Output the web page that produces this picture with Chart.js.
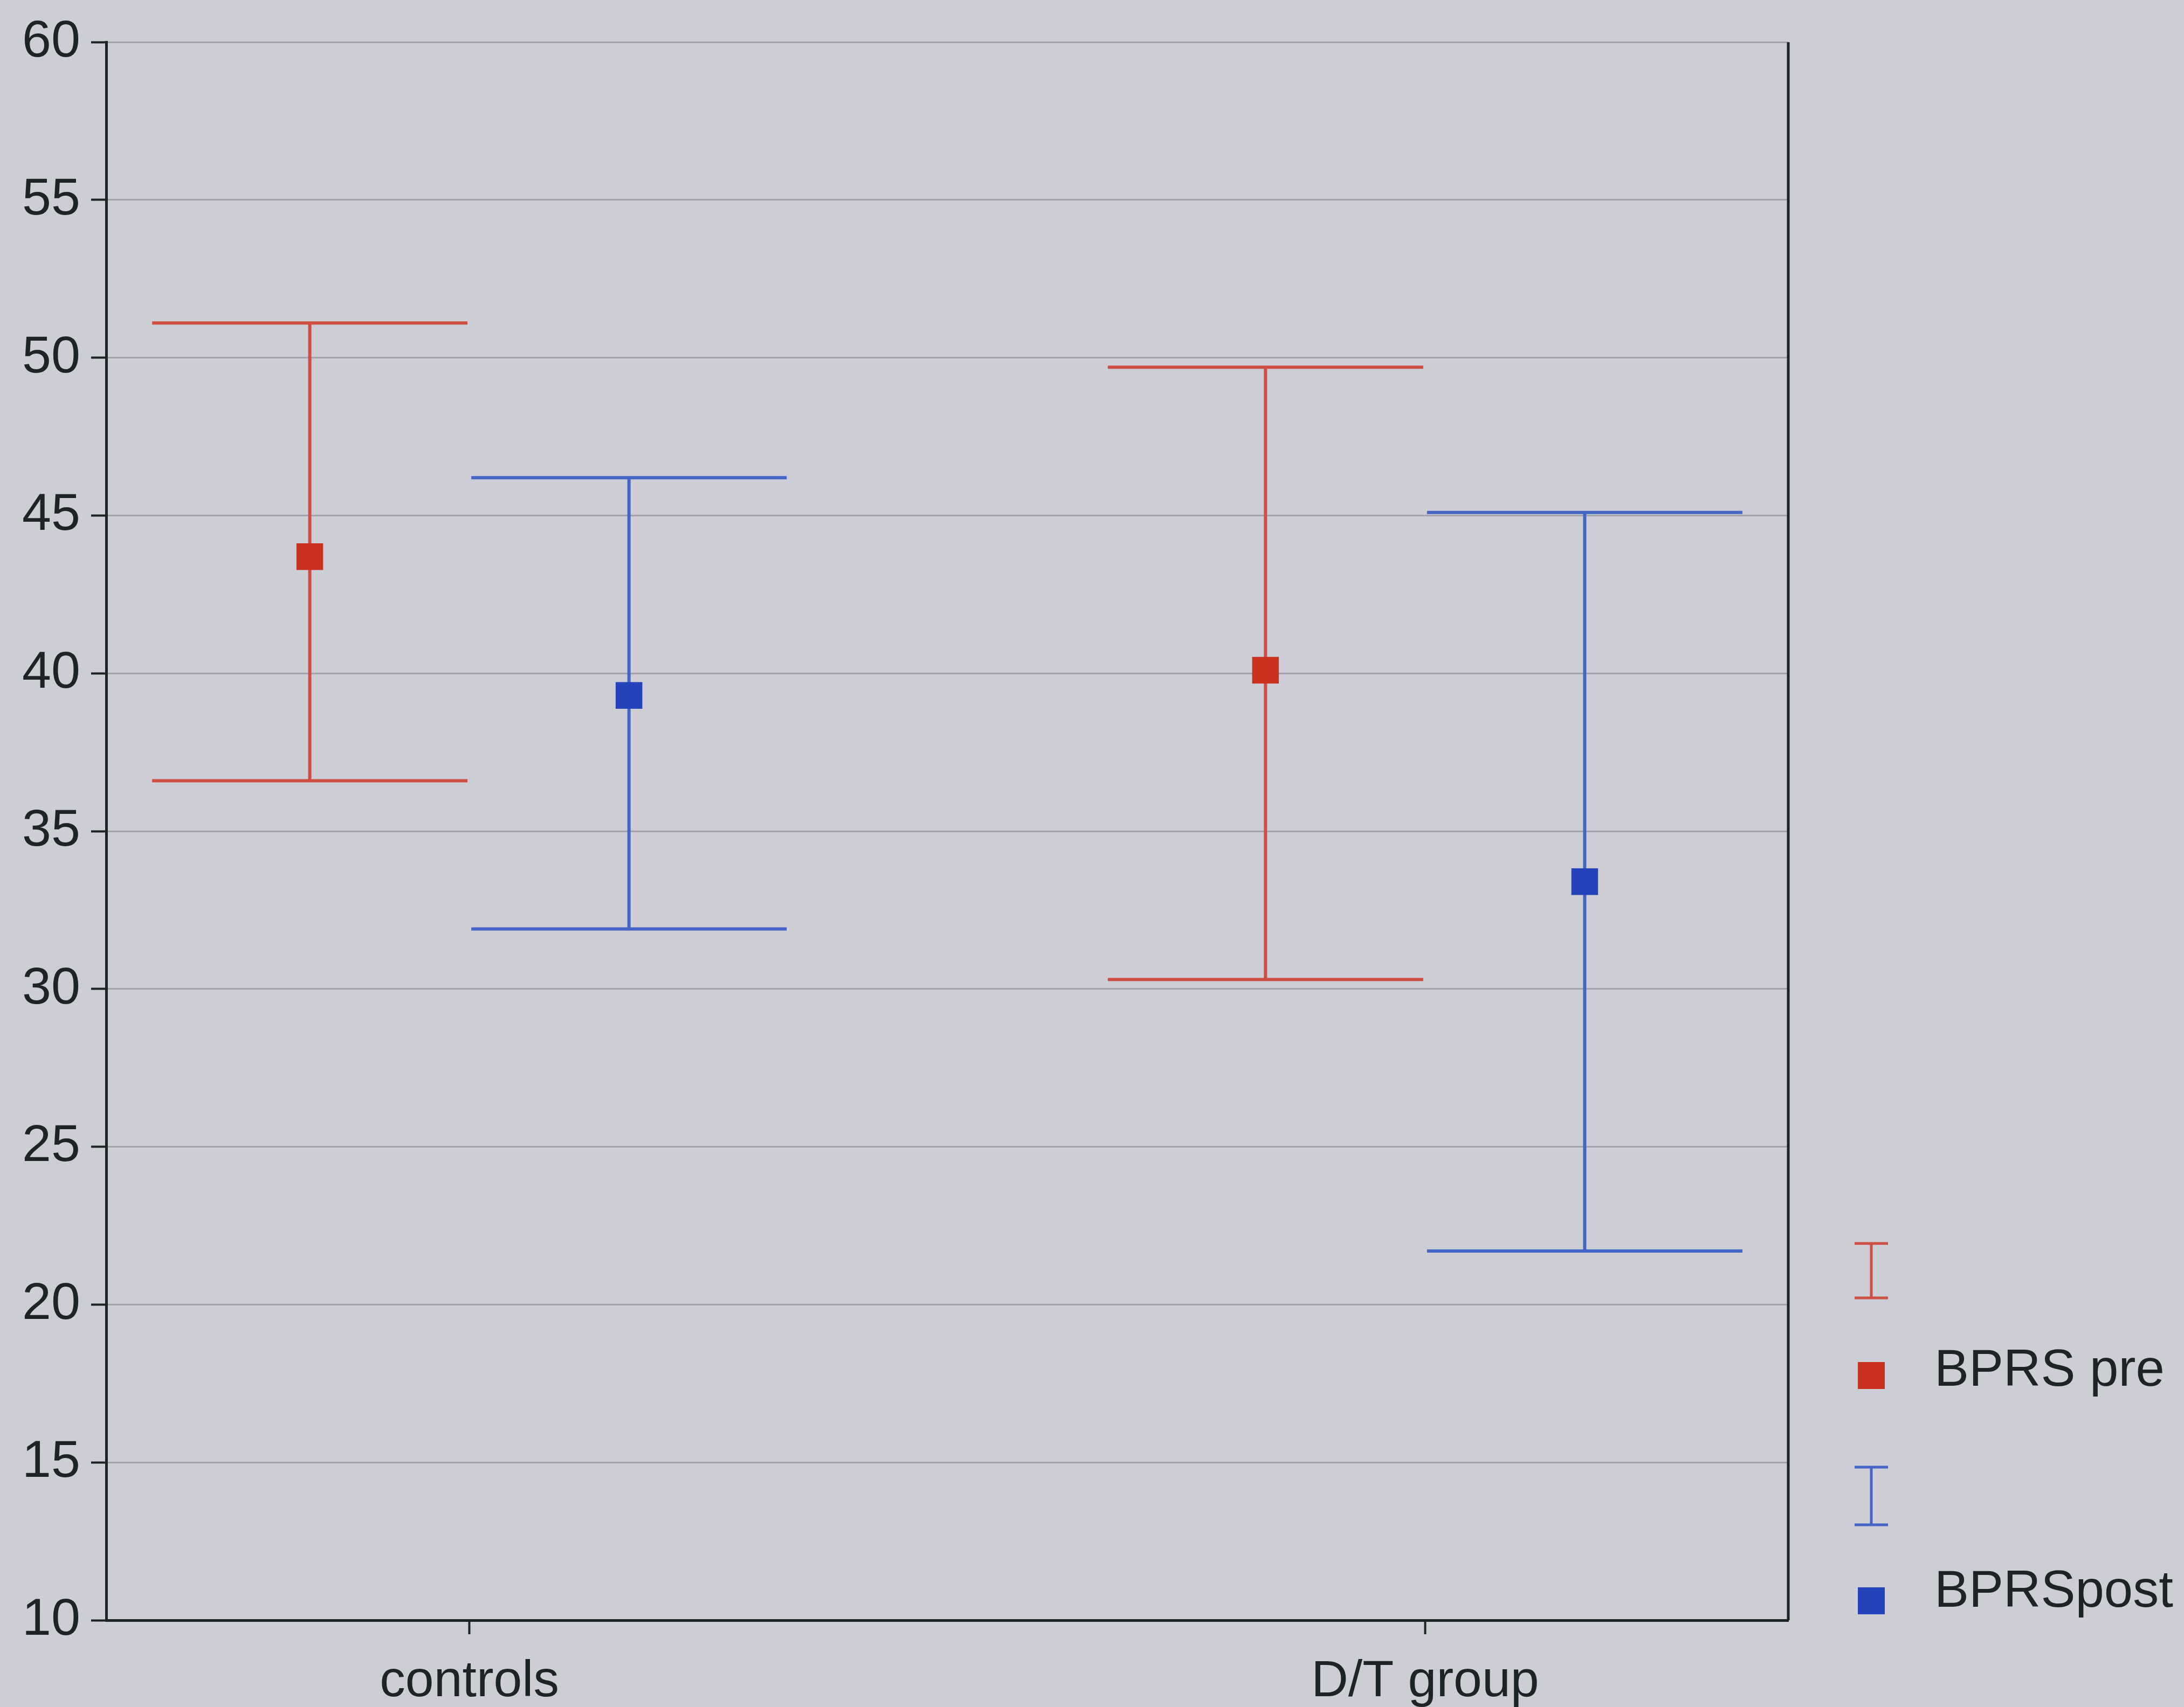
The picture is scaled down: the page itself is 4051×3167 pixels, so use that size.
<!DOCTYPE html>
<html>
<head>
<meta charset="utf-8">
<script src="https://cdn.jsdelivr.net/npm/chart.js@4/dist/chart.umd.min.js"></script>
<style>
  html, body { margin: 0; padding: 0; background: #cdcdd6; }
  #wrap { width: 4051px; height: 3167px; }
</style>
</head>
<body>
<div id="wrap"><canvas id="errChart" width="4051" height="3167"></canvas></div>
<script>
// values (means and error bar ends)
var categories = ['controls', 'D/T group'];
var seriesNames = ['BPRS pre', 'BPRSpost'];
var preMean = [43.7, 40.1];
var preLow = [36.6, 30.3];
var preHigh = [51.1, 49.7];
var postMean = [39.3, 33.4];
var postLow = [31.9, 21.7];
var postHigh = [46.2, 45.1];
var yMin = 10, yMax = 60, yStep = 5;

var redLine = '#cf4e42', redDot = '#c8321f';
var blueLine = '#4465c6', blueDot = '#2443b8';
var inkColor = '#1c2426';
var gridColor = '#a2a3ae';

var offset = 0.167;   // sideways shift of each series inside a group
var capHalf = 0.165;  // half width of the caps, in x units

Chart.defaults.font.family = "'Liberation Sans', Arial, sans-serif";
Chart.defaults.color = inkColor;

function points(means, shift) {
    return means.map(function (m, i) { return {x: i + 1 + shift, y: m}; });
}

var errorBars = {
    id: 'errorBars',
    beforeDatasetsDraw: function (chart) {
        var ctx = chart.ctx, x = chart.scales.x, y = chart.scales.y;
        ctx.save();
        ctx.lineWidth = 6;
        chart.data.datasets.forEach(function (ds) {
            ctx.strokeStyle = ds.errColor;
            ds.data.forEach(function (p, i) {
                var px = x.getPixelForValue(p.x);
                var lo = y.getPixelForValue(ds.errLow[i]);
                var hi = y.getPixelForValue(ds.errHigh[i]);
                var l = x.getPixelForValue(p.x - capHalf);
                var r = x.getPixelForValue(p.x + capHalf);
                ctx.beginPath();
                ctx.moveTo(px, lo); ctx.lineTo(px, hi);
                ctx.moveTo(l, hi); ctx.lineTo(r, hi);
                ctx.moveTo(l, lo); ctx.lineTo(r, lo);
                ctx.stroke();
            });
        });
        ctx.restore();
    }
};

// right frame line and the legend at the lower right
var frameAndLegend = {
    id: 'frameAndLegend',
    afterDraw: function (chart) {
        var ctx = chart.ctx, a = chart.chartArea;
        ctx.save();
        ctx.strokeStyle = inkColor;
        ctx.lineWidth = 5;
        ctx.beginPath();
        ctx.moveTo(a.right, a.top);
        ctx.lineTo(a.right, a.bottom);
        ctx.stroke();

        var cx = 3471, textX = 3588;
        var rows = [
            {bar: [2307, 2408], dot: 2552, text: 2545, line: redLine, dotColor: redDot, name: seriesNames[0]},
            {bar: [2722, 2829], dot: 2970, text: 2955, line: blueLine, dotColor: blueDot, name: seriesNames[1]}
        ];
        ctx.font = "96px 'Liberation Sans', Arial, sans-serif";
        ctx.textBaseline = 'middle';
        ctx.textAlign = 'left';
        rows.forEach(function (r) {
            ctx.strokeStyle = r.line;
            ctx.lineWidth = 5;
            ctx.beginPath();
            ctx.moveTo(cx, r.bar[0]); ctx.lineTo(cx, r.bar[1]);
            ctx.moveTo(cx - 31, r.bar[0]); ctx.lineTo(cx + 31, r.bar[0]);
            ctx.moveTo(cx - 31, r.bar[1]); ctx.lineTo(cx + 31, r.bar[1]);
            ctx.stroke();
            ctx.fillStyle = r.dotColor;
            ctx.fillRect(cx - 25, r.dot - 25, 50, 50);
            ctx.fillStyle = inkColor;
            ctx.fillText(r.name, textX, r.text);
        });
        ctx.restore();
    }
};

var errChart = new Chart(document.getElementById('errChart'), {
    type: 'scatter',
    data: {
        datasets: [{
            label: seriesNames[0],
            data: points(preMean, -offset),
            errLow: preLow,
            errHigh: preHigh,
            errColor: redLine,
            pointStyle: 'rect',
            pointRadius: 35,
            pointHoverRadius: 35,
            backgroundColor: redDot,
            borderWidth: 0
        }, {
            label: seriesNames[1],
            data: points(postMean, offset),
            errLow: postLow,
            errHigh: postHigh,
            errColor: blueLine,
            pointStyle: 'rect',
            pointRadius: 35,
            pointHoverRadius: 35,
            backgroundColor: blueDot,
            borderWidth: 0
        }]
    },
    options: {
        responsive: false,
        animation: false,
        layout: {padding: {left: 0, top: 61, right: 734, bottom: 0}},
        plugins: {legend: {display: false}, tooltip: {enabled: false}},
        scales: {
            x: {
                type: 'linear',
                min: 0.62,
                max: 2.38,
                afterBuildTicks: function (s) {
                    s.ticks = categories.map(function (c, i) { return {value: i + 1}; });
                },
                afterFit: function (s) { s.height = 161; },
                ticks: {
                    font: {size: 95},
                    padding: 32,
                    callback: function (v) { return categories[v - 1]; }
                },
                grid: {
                    drawOnChartArea: false,
                    tickLength: 26,
                    tickColor: inkColor,
                    tickWidth: 4
                },
                border: {color: inkColor, width: 5}
            },
            y: {
                min: yMin,
                max: yMax,
                afterFit: function (s) { s.width = 197; },
                ticks: {stepSize: yStep, font: {size: 97}, padding: 20},
                grid: {
                    color: gridColor,
                    lineWidth: 3,
                    tickLength: 28,
                    tickColor: inkColor,
                    tickWidth: 4
                },
                border: {color: inkColor, width: 5}
            }
        }
    },
    plugins: [errorBars, frameAndLegend]
});
</script>
</body>
</html>
